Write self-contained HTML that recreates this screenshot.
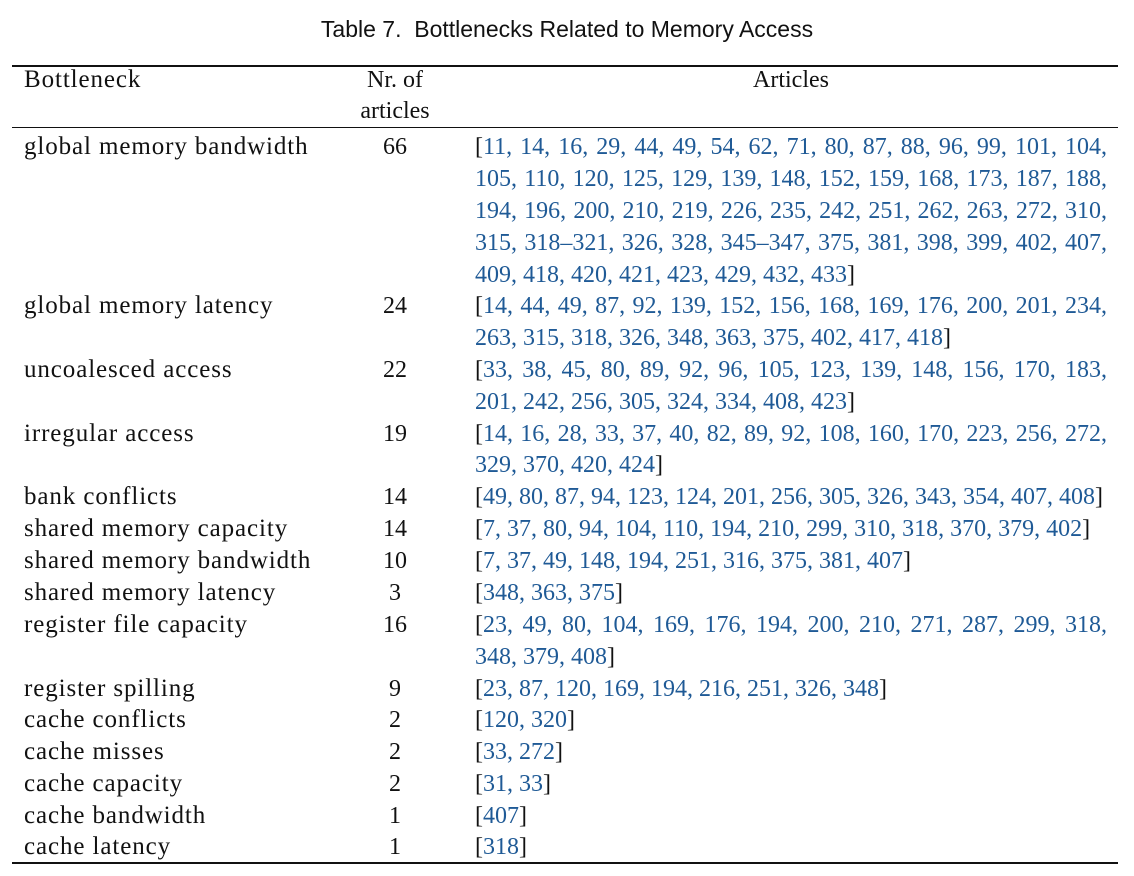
<!DOCTYPE html>
<html><head><meta charset="utf-8"><style>
body{margin:0;width:1134px;height:876px;background:#fff;position:relative;font-family:"Liberation Serif",serif;font-size:24px;color:#111;overflow:hidden}
.t{position:absolute;line-height:32px;height:32px;white-space:nowrap}
.b{font-size:25px;letter-spacing:0.9px}
.rule{position:absolute;left:12px;width:1106px;background:#111}
.l{position:absolute;left:475px;width:632px;line-height:32px;height:32px;white-space:nowrap;color:#1f5a96}
.j{text-align:justify;text-align-last:justify;white-space:normal}
.k{color:#111}
.n{position:absolute;left:355px;width:80px;text-align:center;line-height:32px}
</style></head><body>
<div class="t" style="left:0;width:1134px;text-align:center;top:13px;font-family:'Liberation Sans',sans-serif;font-size:23px">Table 7.&nbsp; Bottlenecks Related to Memory Access</div>
<div class="rule" style="top:65px;height:1.5px"></div>
<div class="t b" style="left:24px;top:64px">Bottleneck</div>
<div class="n" style="top:64px">Nr. of</div>
<div class="n" style="top:95px">articles</div>
<div class="t" style="left:475px;width:632px;text-align:center;top:64px">Articles</div>
<div class="rule" style="top:127px;height:1px"></div>

<div class="t b" style="left:24px;top:131px">global memory bandwidth</div><div class="n" style="top:131px">66</div>
<div class="l j" style="top:131px"><span class="k">[</span>11, 14, 16, 29, 44, 49, 54, 62, 71, 80, 87, 88, 96, 99, 101, 104,</div>
<div class="l j" style="top:163px">105, 110, 120, 125, 129, 139, 148, 152, 159, 168, 173, 187, 188,</div>
<div class="l j" style="top:195px">194, 196, 200, 210, 219, 226, 235, 242, 251, 262, 263, 272, 310,</div>
<div class="l j" style="top:227px">315, 318–321, 326, 328, 345–347, 375, 381, 398, 399, 402, 407,</div>
<div class="l" style="top:259px">409, 418, 420, 421, 423, 429, 432, 433<span class="k">]</span></div>

<div class="t b" style="left:24px;top:290px">global memory latency</div><div class="n" style="top:290px">24</div>
<div class="l j" style="top:290px"><span class="k">[</span>14, 44, 49, 87, 92, 139, 152, 156, 168, 169, 176, 200, 201, 234,</div>
<div class="l" style="top:322px">263, 315, 318, 326, 348, 363, 375, 402, 417, 418<span class="k">]</span></div>

<div class="t b" style="left:24px;top:354px">uncoalesced access</div><div class="n" style="top:354px">22</div>
<div class="l j" style="top:354px"><span class="k">[</span>33, 38, 45, 80, 89, 92, 96, 105, 123, 139, 148, 156, 170, 183,</div>
<div class="l" style="top:386px">201, 242, 256, 305, 324, 334, 408, 423<span class="k">]</span></div>

<div class="t b" style="left:24px;top:418px">irregular access</div><div class="n" style="top:418px">19</div>
<div class="l j" style="top:418px"><span class="k">[</span>14, 16, 28, 33, 37, 40, 82, 89, 92, 108, 160, 170, 223, 256, 272,</div>
<div class="l" style="top:449px">329, 370, 420, 424<span class="k">]</span></div>

<div class="t b" style="left:24px;top:481px">bank conflicts</div><div class="n" style="top:481px">14</div>
<div class="l" style="top:481px"><span class="k">[</span>49, 80, 87, 94, 123, 124, 201, 256, 305, 326, 343, 354, 407, 408<span class="k">]</span></div>

<div class="t b" style="left:24px;top:513px">shared memory capacity</div><div class="n" style="top:513px">14</div>
<div class="l" style="top:513px"><span class="k">[</span>7, 37, 80, 94, 104, 110, 194, 210, 299, 310, 318, 370, 379, 402<span class="k">]</span></div>

<div class="t b" style="left:24px;top:545px">shared memory bandwidth</div><div class="n" style="top:545px">10</div>
<div class="l" style="top:545px"><span class="k">[</span>7, 37, 49, 148, 194, 251, 316, 375, 381, 407<span class="k">]</span></div>

<div class="t b" style="left:24px;top:577px">shared memory latency</div><div class="n" style="top:577px">3</div>
<div class="l" style="top:577px"><span class="k">[</span>348, 363, 375<span class="k">]</span></div>

<div class="t b" style="left:24px;top:609px">register file capacity</div><div class="n" style="top:609px">16</div>
<div class="l j" style="top:609px"><span class="k">[</span>23, 49, 80, 104, 169, 176, 194, 200, 210, 271, 287, 299, 318,</div>
<div class="l" style="top:641px">348, 379, 408<span class="k">]</span></div>

<div class="t b" style="left:24px;top:673px">register spilling</div><div class="n" style="top:673px">9</div>
<div class="l" style="top:673px"><span class="k">[</span>23, 87, 120, 169, 194, 216, 251, 326, 348<span class="k">]</span></div>

<div class="t b" style="left:24px;top:704px">cache conflicts</div><div class="n" style="top:704px">2</div>
<div class="l" style="top:704px"><span class="k">[</span>120, 320<span class="k">]</span></div>

<div class="t b" style="left:24px;top:736px">cache misses</div><div class="n" style="top:736px">2</div>
<div class="l" style="top:736px"><span class="k">[</span>33, 272<span class="k">]</span></div>

<div class="t b" style="left:24px;top:768px">cache capacity</div><div class="n" style="top:768px">2</div>
<div class="l" style="top:768px"><span class="k">[</span>31, 33<span class="k">]</span></div>

<div class="t b" style="left:24px;top:800px">cache bandwidth</div><div class="n" style="top:800px">1</div>
<div class="l" style="top:800px"><span class="k">[</span>407<span class="k">]</span></div>

<div class="t b" style="left:24px;top:831px">cache latency</div><div class="n" style="top:831px">1</div>
<div class="l" style="top:831px"><span class="k">[</span>318<span class="k">]</span></div>

<div class="rule" style="top:862px;height:1.5px"></div>
</body></html>
